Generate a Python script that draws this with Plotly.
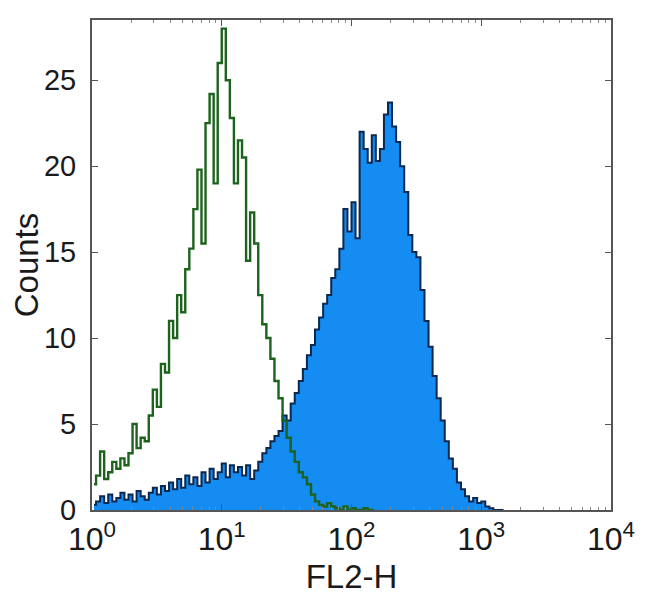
import plotly.graph_objects as go

# Histogram bins: log10 start and width (decades per bin)
BIN_LOG_START = 0.0
BIN_LOG_WIDTH = 1.0 / 32

# Isotype control (green outline)
green_counts = [1.5, 2.0, 3.4, 1.8, 2.2, 2.8, 2.4, 3.0, 2.6, 3.3,
                5.0, 3.6, 4.2, 4.0, 5.5, 7.0, 6.0, 8.5, 8.0, 11.0,
                10.0, 12.5, 11.5, 14.0, 15.2, 17.5, 19.8, 15.5, 22.5, 24.2,
                19.0, 26.0, 28.0, 25.0, 22.8, 19.0, 21.5, 20.5, 14.5, 17.3,
                15.5, 12.5, 10.8, 10.0, 8.8, 7.5, 6.5, 5.2, 4.2, 3.4,
                2.8, 2.2, 1.9, 1.5, 0.9, 0.5, 0.3, 0.2, 0.4, 0.2,
                0.1, 0.0, 0.2, 0.0, 0.1, 0.0, 0.0, 0.1, 0.0, 0.0]

# Stained sample (blue filled)
blue_counts = [0.3, 0.5, 0.8, 0.4, 0.9, 0.5, 0.7, 1.0, 0.6, 0.9,
               0.5, 1.1, 0.8, 0.6, 1.0, 1.3, 0.9, 1.4, 1.1, 1.6,
               1.2, 1.8, 1.3, 2.0, 1.5, 1.9, 1.4, 2.2, 1.6, 2.4,
               1.8, 2.2, 2.7, 1.9, 2.6, 2.2, 2.5, 2.0, 2.6, 1.8,
               2.3, 2.8, 3.3, 3.6, 4.0, 4.3, 4.6, 5.5, 5.2, 6.2,
               6.8, 7.5, 8.2, 9.0, 9.6, 10.5, 11.2, 12.0, 12.5, 13.5,
               14.0, 15.2, 17.5, 16.2, 17.9, 15.8, 22.0, 21.0, 20.2, 21.8,
               20.3, 21.0, 23.0, 23.7, 22.3, 21.4, 20.0, 18.5, 16.0, 15.0,
               14.7, 12.8, 11.0, 9.5, 7.8, 6.5, 5.2, 4.0, 3.0, 2.4,
               1.6, 1.2, 0.8, 0.5, 0.7, 0.4, 0.5, 0.2, 0.1, 0.0,
               0.0, 0.0]

x_tickvals = [1, 10, 100, 1000, 10000]
x_ticktext = ["10<sup>0</sup>", "10<sup>1</sup>", "10<sup>2</sup>", "10<sup>3</sup>", "10<sup>4</sup>"]
y_tickvals = [0, 5, 10, 15, 20, 25]


def centers(n):
    return [10 ** (BIN_LOG_START + BIN_LOG_WIDTH * (i + 0.5)) for i in range(n)]


fig = go.Figure()
fig.add_trace(go.Scatter(
    x=centers(len(blue_counts)), y=blue_counts, mode="lines",
    line=dict(color="#0a2850", width=2, shape="hvh"),
    fill="tozeroy", fillcolor="#148cf2", showlegend=False))
fig.add_trace(go.Scatter(
    x=centers(len(green_counts)), y=green_counts, mode="lines",
    line=dict(color="#1d621d", width=2.4, shape="hvh"),
    showlegend=False))

FAMILY = "Liberation Sans, Arial, sans-serif"
COLOR = "#1a1a1a"

fig.update_layout(
    width=650, height=616,
    margin=dict(l=84, r=47, t=10, b=114),
    paper_bgcolor="white", plot_bgcolor="white",
    font=dict(family=FAMILY, size=28, color=COLOR),
)
fig.update_xaxes(
    type="log", range=[0, 4],
    tickvals=x_tickvals, ticktext=x_ticktext,
    ticks="inside", ticklen=6, tickcolor="#555555",
    minor=dict(ticks="inside", ticklen=3, tickcolor="#888888", dtick="D1"),
    showline=True, linecolor="#555555", linewidth=2, mirror="ticks",
    showgrid=False, zeroline=False,
    title=dict(text="FL2-H", standoff=8, font=dict(family=FAMILY, size=33, color=COLOR)),
    tickfont=dict(family=FAMILY, size=32, color=COLOR),
)
fig.update_yaxes(
    range=[0, 28.5], tickvals=y_tickvals,
    ticks="inside", ticklen=6, tickcolor="#555555",
    showline=True, linecolor="#555555", linewidth=2, mirror="ticks",
    showgrid=False, zeroline=False,
    ticklabelstandoff=8,
    title=dict(text="Counts", standoff=2, font=dict(family=FAMILY, size=33, color=COLOR)),
    tickfont=dict(family=FAMILY, size=29, color=COLOR),
)

fig.write_html("out.html")
